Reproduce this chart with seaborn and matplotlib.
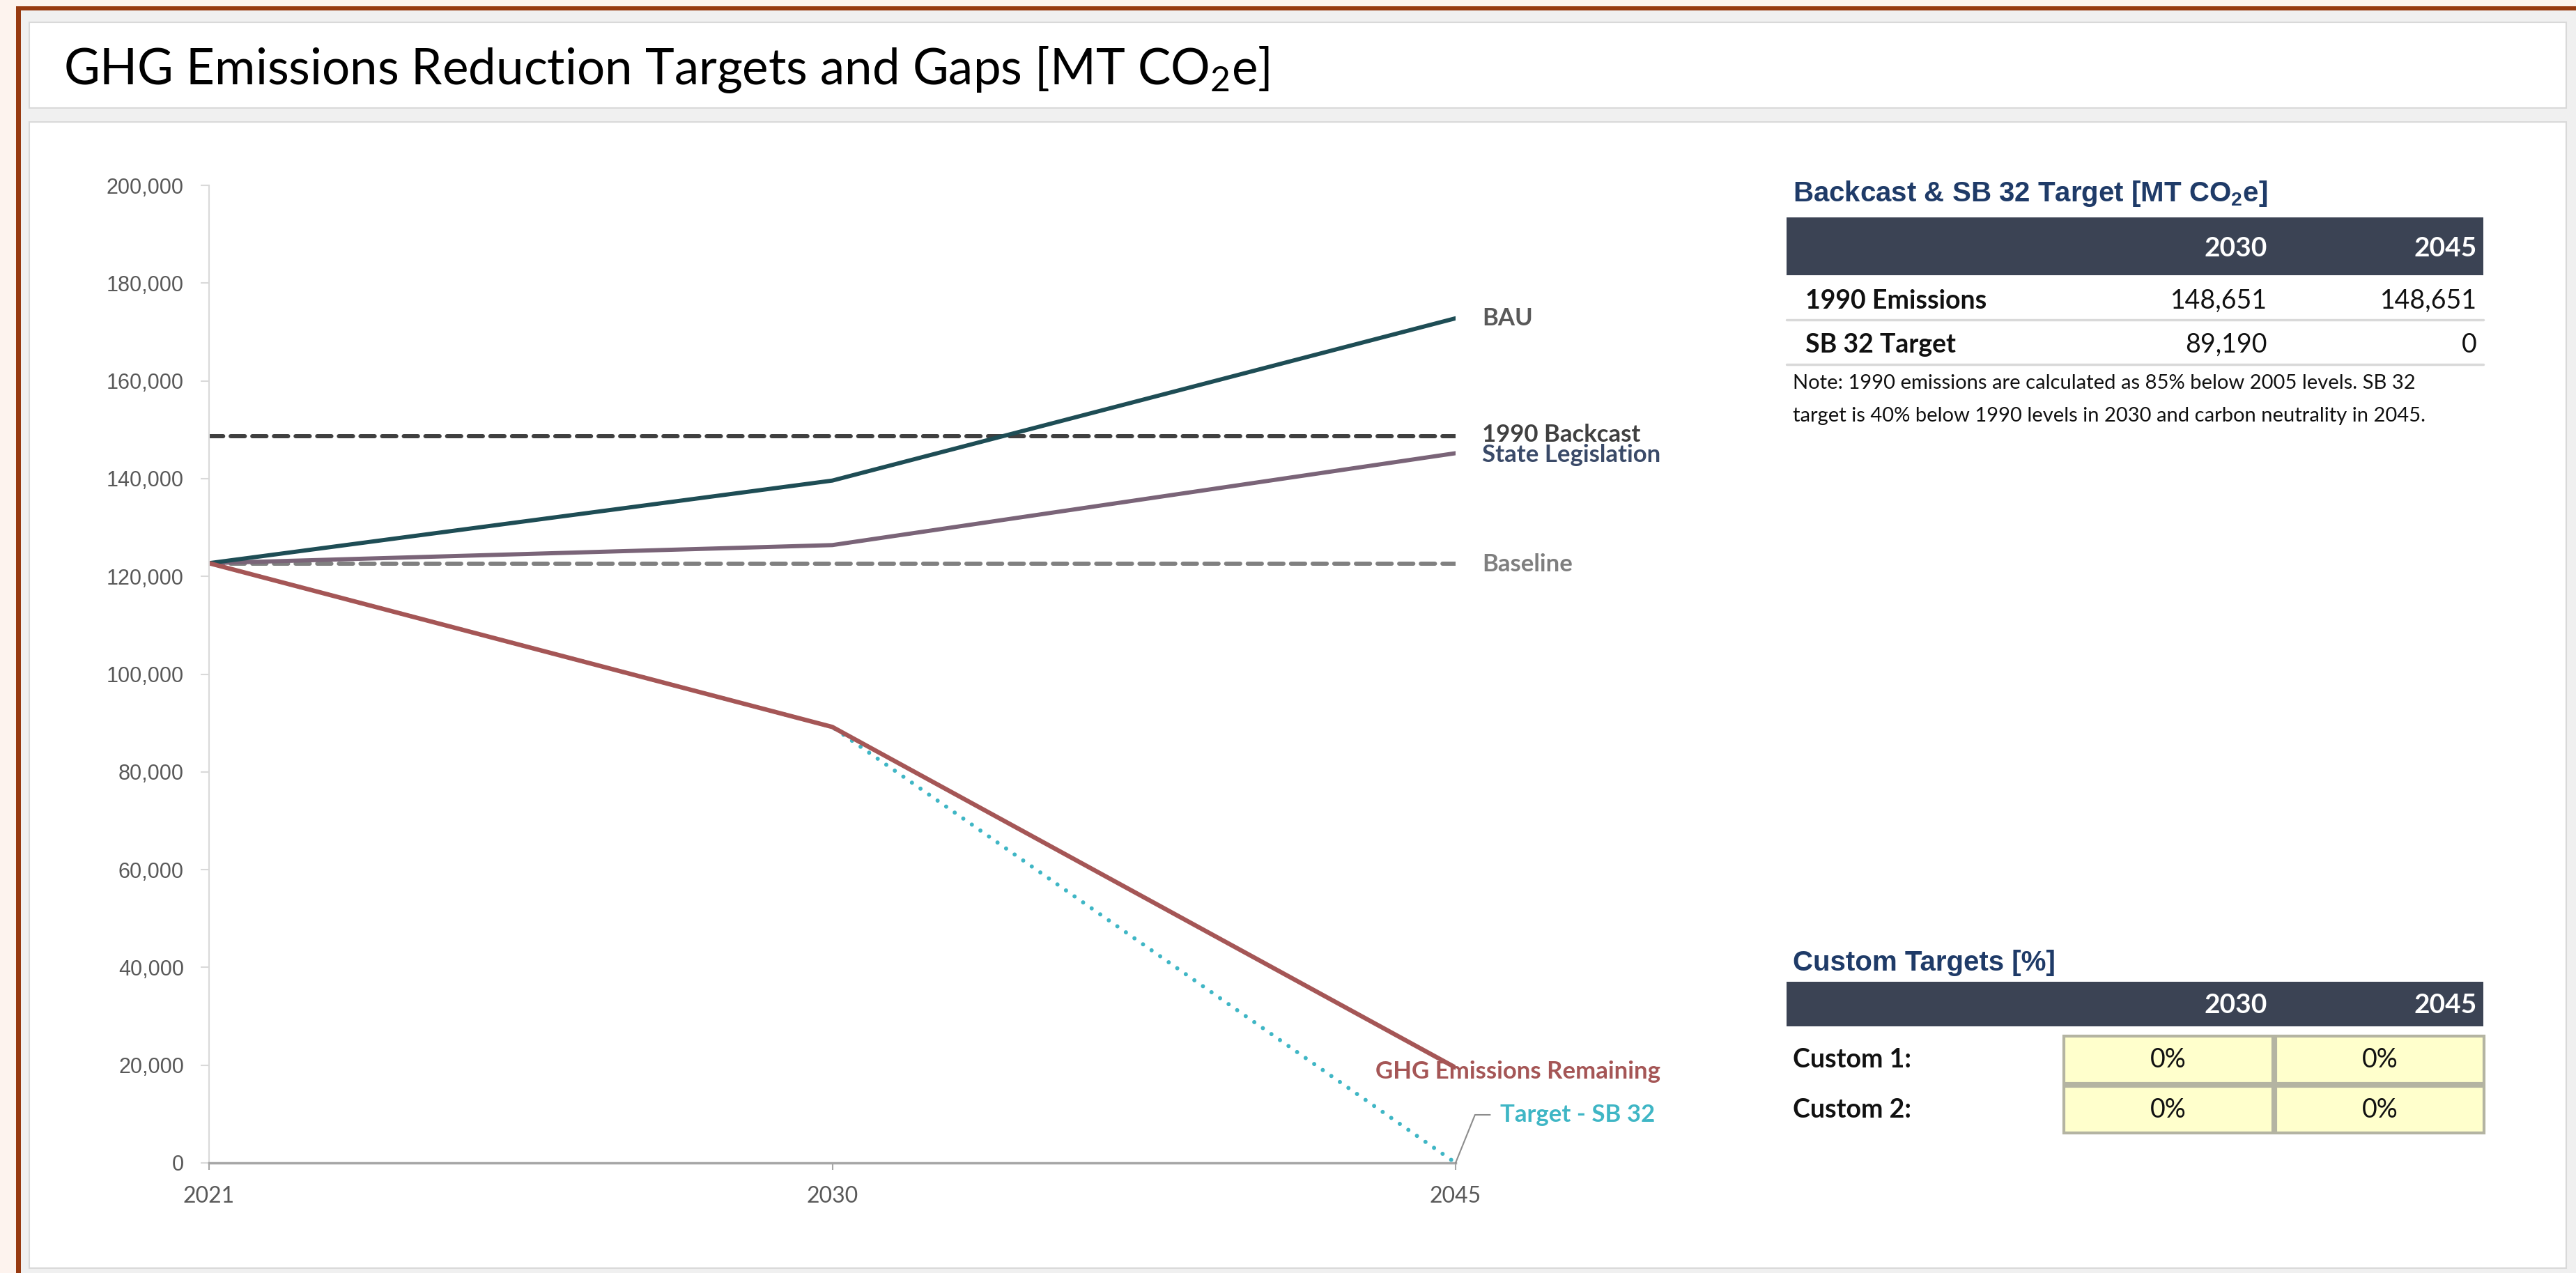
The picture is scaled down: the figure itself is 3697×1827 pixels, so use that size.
import matplotlib
matplotlib.use("Agg")
import matplotlib.pyplot as plt
import seaborn as sns
from matplotlib.patches import Rectangle
from matplotlib.ticker import MultipleLocator, StrMethodFormatter

# chart data (MT CO2e)
years = ["2021", "2030", "2045"]
bau = [122700, 139600, 172800]
state_legislation = [122700, 126400, 145200]
backcast_1990 = [148651, 148651, 148651]
baseline = [122650, 122650, 122650]
ghg_remaining = [122700, 89190, 19500]
target_sb32 = [122700, 89190, 0]

# side tables
table_years = ["2030", "2045"]
backcast_rows = ["1990 Emissions", "SB 32 Target"]
emissions_1990 = [148651, 148651]
sb32_target = [89190, 0]
custom_rows = ["Custom 1:", "Custom 2:"]
custom_1 = [0, 0]
custom_2 = [0, 0]

W, H = 3698, 1827
sns.set_theme(style="white")
plt.rcParams["font.family"] = ["Lato", "DejaVu Sans"]

fig = plt.figure(figsize=(W / 100, H / 100), dpi=100, facecolor="#f0f0f0")

# background layer in pixel coordinates (y down)
bg = fig.add_axes([0, 0, 1, 1])
bg.set_xlim(0, W)
bg.set_ylim(H, 0)
bg.axis("off")


def box(x0, y0, x1, y1, **kw):
    bg.add_patch(Rectangle((x0, y0), x1 - x0, y1 - y0, **kw))


box(0, 0, W, 10, facecolor="#fdf3ee", lw=0)
box(0, 0, 23, H, facecolor="#fdf3ee", lw=0)
box(23, 9, W, 15, facecolor="#973a10", lw=0)
box(23, 9, 30, H, facecolor="#973a10", lw=0)
box(42, 32, 3683, 155, facecolor="white", edgecolor="#d9d9d9", lw=1.5)
box(42, 175, 3683, 1820, facecolor="white", edgecolor="#d9d9d9", lw=1.5)

bg.text(91, 100, r"GHG Emissions Reduction Targets and Gaps [MT CO$\mathregular{_2}$e]",
        fontsize=51, fontweight="normal", color="#000000", va="center", ha="left")

# --- Backcast table
navy = "#1f3b68"
header = "#3b4354"
body = 27
bg.text(2573, 278, r"Backcast & SB 32 Target [MT CO$\mathregular{_2}$e]", family="Liberation Sans",
        fontsize=29, fontweight="bold", color=navy, va="center")
box(2564, 312, 3564, 395, facecolor=header, lw=0)
col_right = [3254, 3555]
for x, yr in zip(col_right, table_years):
    bg.text(x, 356, yr, color="white", fontsize=28, fontweight="bold", ha="right", va="center")
row_y = [432, 495]
for y, label, vals in zip(row_y, backcast_rows, [emissions_1990, sb32_target]):
    bg.text(2591, y, label, fontsize=body, fontweight="bold", color="#111111", va="center")
    for x, v in zip(col_right, vals):
        bg.text(x, y, f"{v:,}", fontsize=body, color="#111111", ha="right", va="center")
for y in [459, 523]:
    bg.plot([2564, 3564], [y, y], color="#d9d9d9", lw=2.5)
bg.text(2573, 550, "Note: 1990 emissions are calculated as 85% below 2005 levels. SB 32",
        fontsize=21, color="#111111", va="center")
bg.text(2573, 597, "target is 40% below 1990 levels in 2030 and carbon neutrality in 2045.",
        fontsize=21, color="#111111", va="center")

# --- Custom targets table
bg.text(2573, 1382, "Custom Targets [%]", family="Liberation Sans",
        fontsize=29, fontweight="bold", color=navy, va="center")
box(2564, 1409, 3564, 1473, facecolor=header, lw=0)
for x, yr in zip(col_right, table_years):
    bg.text(x, 1442, yr, color="white", fontsize=28, fontweight="bold", ha="right", va="center")
cell_x = [(2962, 3262), (3266, 3565)]
cell_y = [(1487, 1555), (1559, 1626)]
for (y0, y1), label, vals in zip(cell_y, custom_rows, [custom_1, custom_2]):
    bg.text(2573, (y0 + y1) / 2, label, fontsize=body, fontweight="bold", color="#111111", va="center")
    for (x0, x1), v in zip(cell_x, vals):
        box(x0, y0, x1, y1, facecolor="#ffffcc", edgecolor="#b4b4a2", lw=3)
        bg.text((x0 + x1) / 2, (y0 + y1) / 2, f"{v:.0%}", fontsize=body, color="#111111",
                ha="center", va="center")

# --- line chart
ax = fig.add_axes([300 / W, 1 - 1669 / H, (2089 - 300) / W, (1669 - 266) / H])
ax.set_facecolor("none")

series = [
    ("Baseline", baseline, "#808080", (0, (3.4, 1.8)), 4.3),
    ("1990 Backcast", backcast_1990, "#3f3f3f", (0, (3.4, 1.8)), 4.3),
    ("Target - SB 32", target_sb32, "#3fb6c5", (0, (0.01, 2.5)), 4.3),
    ("State Legislation", state_legislation, "#7a6478", "-", 4.3),
    ("BAU", bau, "#1e4d55", "-", 4.3),
    ("GHG Emissions Remaining", ghg_remaining, "#a55656", "-", 4.6),
]
for name, vals, color, ls, lw in series:
    sns.lineplot(x=years, y=vals, color=color, linewidth=lw, linestyle=ls, ax=ax)
    ax.lines[-1].set_dash_capstyle("round")

ax.set_xlim(0, 2)
ax.set_ylim(0, 200000)
ax.set_xlabel("")
ax.set_ylabel("")
ax.yaxis.set_major_locator(MultipleLocator(20000))
ax.yaxis.set_major_formatter(StrMethodFormatter("{x:,.0f}"))
sns.despine(ax=ax)
ax.spines["left"].set_color("#d9d9d9")
ax.spines["left"].set_linewidth(1.5)
ax.spines["bottom"].set_color("#a6a6a6")
ax.spines["bottom"].set_linewidth(2.5)
ax.tick_params(axis="y", left=True, length=9, width=1.5, color="#d9d9d9", pad=17,
               labelsize=22, labelcolor="#595959")
ax.tick_params(axis="x", bottom=True, length=7, width=1.5, color="#a6a6a6", pad=17,
               labelsize=23, labelcolor="#595959")
plt.setp(ax.get_yticklabels(), family="Liberation Sans")

labels = [
    ("BAU", bau[-1], (38, 0), "left", "#595959"),
    ("1990 Backcast", backcast_1990[-1], (38, 2), "left", "#404040"),
    ("State Legislation", state_legislation[-1], (38, -3), "left", "#3a4a68"),
    ("Baseline", baseline[-1], (38, -1), "left", "#7f7f7f"),
    ("GHG Emissions Remaining", ghg_remaining[-1], (90, -6), "center", "#a55656"),
]
for text, yv, off, ha, color in labels:
    ax.annotate(text, xy=(2, yv), xytext=off, textcoords="offset pixels", ha=ha, va="center",
                fontsize=25, fontweight="bold", color=color, annotation_clip=False)

ax.annotate("Target - SB 32", xy=(2, target_sb32[-1]), xytext=(64, 69), textcoords="offset pixels",
            ha="left", va="center", fontsize=25, fontweight="bold", color="#3fb6c5",
            annotation_clip=False,
            arrowprops=dict(arrowstyle="-", color="#8c8c8c", lw=1.5, shrinkA=8, shrinkB=0,
                            relpos=(0, 0.5), connectionstyle="angle,angleA=0,angleB=68,rad=0"))

fig.savefig("out.png", dpi=100, facecolor=fig.get_facecolor())
